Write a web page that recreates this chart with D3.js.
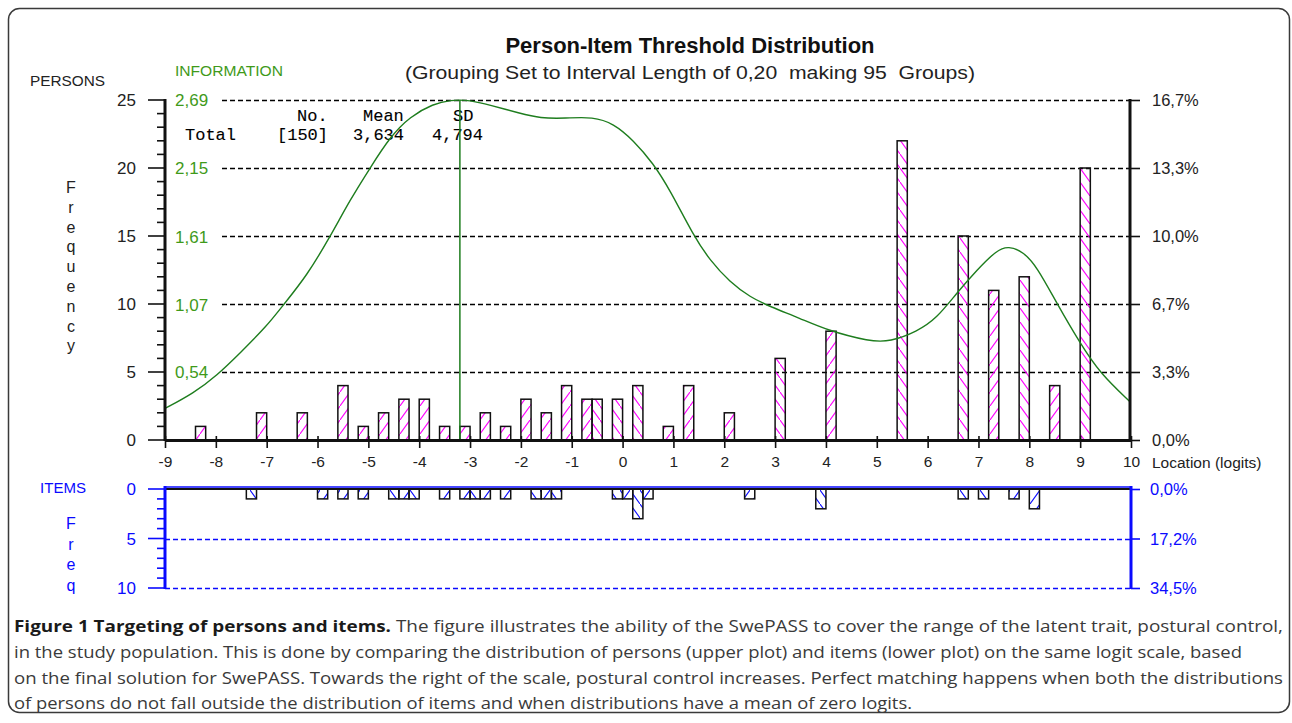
<!DOCTYPE html>
<html><head><meta charset="utf-8">
<script src="https://cdn.jsdelivr.net/npm/d3@7"></script>
<style>
html,body{margin:0;padding:0;background:#fff;}
svg{display:block;}
.sans{font-family:"Liberation Sans",Arial,sans-serif;}
.mono{font-family:"Liberation Mono","Courier New",monospace;}
</style></head>
<body>
<svg id="chart" width="1292" height="723"></svg>
<script>
// ---------------- DATA ----------------
const xTicks = [-9,-8,-7,-6,-5,-4,-3,-2,-1,0,1,2,3,4,5,6,7,8,9,10];
const xTickLabels = ["-9","-8","-7","-6","-5","-4","-3","-2","-1","0","1","2","3","4","5","6","7","8","9","10"];
const binWidth = 0.2;
const binOrigin = -8.3;

const personLoc  = [-8.3,-7.1,-6.3,-5.5,-5.1,-4.7,-4.3,-3.9,-3.5,-3.1,-2.7,-2.3,-1.9,-1.5,-1.1,-0.7,-0.5,-0.1,0.3,0.9,1.3,2.1,3.1,4.1,5.5,6.7,7.3,7.9,8.5,9.1];
const personFreq = [1,2,2,4,1,2,3,3,1,1,2,1,3,2,4,3,3,3,4,1,4,2,6,8,22,15,11,12,4,20];

const itemLoc  = [-7.3,-5.9,-5.5,-5.1,-4.5,-4.3,-4.1,-3.5,-3.1,-2.9,-2.7,-2.3,-1.7,-1.5,-1.3,-0.1,0.1,0.3,0.5,2.5,3.9,6.7,7.1,7.7,8.1];
const itemFreq = [1,1,1,1,1,1,1,1,1,1,1,1,1,1,1,1,1,3,1,1,2,1,1,1,2];

const infoLoc = [-9,-8.44,-7.98,-7.52,-7.0,-6.67,-6.21,-5.75,-5.36,-4.97,-4.57,-4.18,-3.72,-3.39,-3.0,-2.61,-2.02,-1.62,-1.13,-0.58,-0.18,0.21,0.60,0.93,1.39,1.72,2.11,2.51,2.90,3.49,4.01,4.87,5.26,5.79,6.18,6.57,6.97,7.36,7.59,7.88,8.15,8.54,9.0,9.39,9.98];
const infoVal = [0.25,0.37,0.51,0.69,0.90,1.07,1.30,1.61,1.90,2.15,2.40,2.56,2.66,2.69,2.69,2.65,2.585,2.545,2.545,2.558,2.505,2.373,2.19,1.98,1.62,1.42,1.25,1.13,1.055,0.963,0.87,0.778,0.778,0.857,0.963,1.161,1.345,1.503,1.535,1.49,1.371,1.082,0.765,0.528,0.303];
const infoMarkerLoc = -3.2;

const personTicks = [0,5,10,15,20,25];
const personTickLabels = ["0","5","10","15","20","25"];
const personPctLabels = ["0,0%","3,3%","6,7%","10,0%","13,3%","16,7%"];
const infoTicks = [0.54,1.07,1.61,2.15,2.69];
const infoTickLabels = ["0,54","1,07","1,61","2,15","2,69"];
const infoMax = 2.69;

const itemTicks = [0,5,10];
const itemTickLabels = ["0","5","10"];
const itemPctLabels = ["0,0%","17,2%","34,5%"];

const statsHeader = ["No.","Mean","SD"];
const statsRow = ["Total","[150]","3,634","4,794"];

const title = "Person-Item Threshold Distribution";
const subtitle = "(Grouping Set to Interval Length of 0,20  making 95  Groups)";
const captionBold = "Figure 1 Targeting of persons and items.";
const captionLines = [
  " The figure illustrates the ability of the SwePASS to cover the range of the latent trait, postural control,",
  "in the study population. This is done by comparing the distribution of persons (upper plot) and items (lower plot) on the same logit scale, based",
  "on the final solution for SwePASS. Towards the right of the scale, postural control increases. Perfect matching happens when both the distributions",
  "of persons do not fall outside the distribution of items and when distributions have a mean of zero logits."
];

// ---------------- CHART ----------------
const svg = d3.select("#chart");
const GREEN = "#1e7d1e", LABELGREEN = "#3f9a1a", BLUE = "#0a0aff", MAG = "#ff00ff";

const x = d3.scaleLinear().domain([-9,10]).range([165,1131]);
const yP = d3.scaleLinear().domain([0,25]).range([440,100]);
const yInfo = d3.scaleLinear().domain([0,infoMax]).range([440,100]);
const yI = d3.scaleLinear().domain([0,10]).range([489,588]);

// frame
svg.append("rect").attr("x",8.5).attr("y",8.5).attr("width",1281).attr("height",704)
  .attr("rx",11).attr("fill","#fff").attr("stroke","#3a3a3a").attr("stroke-width",1.5);

// patterns
const defs = svg.append("defs");
function hatch(id,color,fwd){
  const p = defs.append("pattern").attr("id",id).attr("patternUnits","userSpaceOnUse")
    .attr("width",10).attr("height",14);
  p.append("path").attr("d", fwd ? "M0,14 L10,0" : "M0,0 L10,14")
    .attr("stroke",color).attr("stroke-width",1.1).attr("fill","none");
}
hatch("pf",MAG,true); hatch("pb",MAG,false);
hatch("bf",BLUE,true); hatch("bb",BLUE,false);
const parity = loc => Math.round((loc - binOrigin)/binWidth) % 2 === 0;

// titles
svg.append("text").attr("class","sans").attr("x",690).attr("y",53).attr("text-anchor","middle")
  .attr("font-size",22).attr("font-weight","bold").attr("fill","#111").text(title);
svg.append("text").attr("class","sans").attr("x",690).attr("y",79).attr("text-anchor","middle")
  .attr("font-size",17.5).attr("fill","#222").attr("textLength",570).attr("lengthAdjust","spacingAndGlyphs")
  .style("white-space","pre").text(subtitle);
svg.append("text").attr("class","sans").attr("x",30).attr("y",86).attr("font-size",15)
  .attr("fill","#222").attr("textLength",75).attr("lengthAdjust","spacingAndGlyphs").text("PERSONS");
svg.append("text").attr("class","sans").attr("x",175).attr("y",76).attr("font-size",15)
  .attr("fill",LABELGREEN).attr("textLength",108).attr("lengthAdjust","spacingAndGlyphs").text("INFORMATION");

// Frequency vertical letters
"Frequency".split("").forEach((c,i)=>{
  svg.append("text").attr("class","sans").attr("x",71).attr("y",193+i*19.8).attr("text-anchor","middle")
    .attr("font-size",16).attr("fill","#222").text(c);
});

// grid lines (upper)
svg.append("g").selectAll("line").data(personTicks.filter(d=>d>0)).join("line")
  .attr("x1",222).attr("x2",1127).attr("y1",d=>Math.round(yP(d))+0.5).attr("y2",d=>Math.round(yP(d))+0.5)
  .attr("stroke","#000").attr("stroke-width",1.6).attr("stroke-dasharray","5,3");

// info labels
svg.append("g").selectAll("text").data(infoTicks).join("text").attr("class","sans")
  .attr("x",175).attr("y",d=>yInfo(d)+6).attr("font-size",17).attr("fill",LABELGREEN)
  .text((d,i)=>infoTickLabels[i]);

// stats text
const hdrX = [297,363,453], rowX = [185,277,353,432];
statsHeader.forEach((t,i)=>svg.append("text").attr("class","mono").attr("x",hdrX[i]).attr("y",121)
  .attr("font-size",17).attr("fill","#000").attr("stroke","#000").attr("stroke-width",0.12).text(t));
statsRow.forEach((t,i)=>svg.append("text").attr("class","mono").attr("x",rowX[i]).attr("y",140)
  .attr("font-size",17).attr("fill","#000").attr("stroke","#000").attr("stroke-width",0.12).text(t));

// person bars
const pdata = personLoc.map((l,i)=>({l,f:personFreq[i]}));
svg.append("g").selectAll("rect").data(pdata).join("rect")
  .attr("x",d=>x(d.l-binWidth/2)).attr("width",d=>x(d.l+binWidth/2)-x(d.l-binWidth/2))
  .attr("y",d=>yP(d.f)).attr("height",d=>yP(0)-yP(d.f))
  .attr("fill",d=>parity(d.l)?"url(#pf)":"url(#pb)").attr("stroke","#111").attr("stroke-width",1.5);

// info curve
const line = d3.line().x((d,i)=>x(infoLoc[i])).y(d=>yInfo(d)).curve(d3.curveBasis);
svg.append("path").datum(infoVal).attr("d",line).attr("fill","none").attr("stroke",GREEN).attr("stroke-width",1.4);
svg.append("line").attr("x1",x(infoMarkerLoc)).attr("x2",x(infoMarkerLoc)).attr("y1",yInfo(infoMax)).attr("y2",yP(0))
  .attr("stroke",GREEN).attr("stroke-width",1.5);

// left axis (persons)
const gl = svg.append("g").attr("transform","translate(165,0)");
gl.selectAll("line.t").data(d3.range(0,26)).join("line").attr("class","t")
  .attr("x1",d=>d%5===0?-17:-8).attr("x2",0).attr("y1",d=>yP(d)).attr("y2",d=>yP(d))
  .attr("stroke","#111").attr("stroke-width",1.6);
gl.append("line").attr("x1",0).attr("x2",0).attr("y1",yP(25)-1).attr("y2",yP(0)+1).attr("stroke","#111").attr("stroke-width",3);
gl.selectAll("text").data(personTicks).join("text").attr("class","sans")
  .attr("x",-29).attr("y",d=>yP(d)+6).attr("text-anchor","end").attr("font-size",17).attr("fill","#222")
  .text((d,i)=>personTickLabels[i]);

// right axis (persons %)
const yR = d3.axisRight(yP).tickValues(personTicks).tickSize(10).tickFormat((d,i)=>personPctLabels[i]);
const gr = svg.append("g").attr("class","sans").attr("transform","translate(1130,0)").call(yR);
gr.select(".domain").remove();
gr.append("line").attr("x1",0).attr("x2",0).attr("y1",yP(25)-1).attr("y2",yP(0)).attr("stroke","#111").attr("stroke-width",3);
gr.selectAll(".tick line").attr("x1",-3).attr("stroke","#111").attr("stroke-width",1.6);
gr.selectAll(".tick text").attr("x",22).attr("font-size",16.5).attr("fill","#222").attr("dy","0.35em");

// x axis (upper)
const xa = d3.axisBottom(x).tickValues(xTicks).tickSize(8).tickSizeOuter(0).tickFormat((d,i)=>xTickLabels[i]);
const gx = svg.append("g").attr("class","sans").attr("transform","translate(0,440)").call(xa);
gx.select(".domain").attr("stroke","#111").attr("stroke-width",3);
gx.selectAll(".tick line").attr("y1",-4).attr("stroke","#111").attr("stroke-width",1.6);
gx.selectAll(".tick text").attr("y",16).attr("font-size",15.5).attr("fill","#222");
svg.append("text").attr("class","sans").attr("x",1152).attr("y",468).attr("font-size",15.5).attr("fill","#222").text("Location (logits)");

// ---------------- items panel ----------------
svg.append("text").attr("class","sans").attr("x",40).attr("y",493).attr("font-size",14.5)
  .attr("fill",BLUE).attr("textLength",46).attr("lengthAdjust","spacingAndGlyphs").text("ITEMS");
"Freq".split("").forEach((c,i)=>{
  svg.append("text").attr("class","sans").attr("x",71).attr("y",529+i*20.5).attr("text-anchor","middle")
    .attr("font-size",16).attr("fill",BLUE).text(c);
});

// item grid
svg.append("g").selectAll("line").data(itemTicks.filter(d=>d>0)).join("line")
  .attr("x1",165).attr("x2",1131).attr("y1",d=>Math.round(yI(d))+0.5).attr("y2",d=>Math.round(yI(d))+0.5)
  .attr("stroke",BLUE).attr("stroke-width",1.5).attr("stroke-dasharray","5,3");

// item bars
const idata = itemLoc.map((l,i)=>({l,f:itemFreq[i]}));
svg.append("g").selectAll("rect").data(idata).join("rect")
  .attr("x",d=>x(d.l-binWidth/2)).attr("width",d=>x(d.l+binWidth/2)-x(d.l-binWidth/2))
  .attr("y",yI(0)).attr("height",d=>yI(d.f)-yI(0))
  .attr("fill",d=>parity(d.l)?"url(#bf)":"url(#bb)").attr("stroke","#111").attr("stroke-width",1.5);

// item top axis lines
svg.append("line").attr("x1",165).attr("x2",1131).attr("y1",yI(0)).attr("y2",yI(0)).attr("stroke","#111").attr("stroke-width",2.2);
svg.append("line").attr("x1",165).attr("x2",1131).attr("y1",yI(0)-2).attr("y2",yI(0)-2).attr("stroke",BLUE).attr("stroke-width",1.6);

// item left axis
const il = svg.append("g").attr("transform","translate(165,0)");
il.selectAll("line.t").data(d3.range(0,11)).join("line").attr("class","t")
  .attr("x1",d=>d%5===0?-17:-8).attr("x2",0).attr("y1",d=>yI(d)).attr("y2",d=>yI(d))
  .attr("stroke",BLUE).attr("stroke-width",1.6);
il.append("line").attr("x1",0).attr("x2",0).attr("y1",yI(0)-3).attr("y2",yI(10)+1).attr("stroke",BLUE).attr("stroke-width",3);
il.selectAll("text").data(itemTicks).join("text").attr("class","sans")
  .attr("x",-29).attr("y",d=>yI(d)+6).attr("text-anchor","end").attr("font-size",17).attr("fill",BLUE)
  .text((d,i)=>itemTickLabels[i]);

// item right axis
const iR = d3.axisRight(yI).tickValues(itemTicks).tickSize(9).tickFormat((d,i)=>itemPctLabels[i]);
const ir = svg.append("g").attr("class","sans").attr("transform","translate(1131,0)").call(iR);
ir.select(".domain").remove();
ir.append("line").attr("x1",0).attr("x2",0).attr("y1",yI(0)-3).attr("y2",yI(10)+1).attr("stroke",BLUE).attr("stroke-width",3);
ir.selectAll(".tick line").attr("stroke",BLUE).attr("stroke-width",1.6);
ir.selectAll(".tick text").attr("x",19).attr("font-size",16.5).attr("fill",BLUE).attr("dy","0.35em");

// ---------------- caption ----------------
const capX = 14, capY = [632,658,684,709], capW = [1269,1228,1269,898];
captionLines.forEach((t,i)=>{
  const tx = svg.append("text").attr("x",capX).attr("y",capY[i])
    .attr("font-family","'Open Sans', 'Noto Sans', sans-serif").attr("font-size",16.5).attr("fill","#3a3a3a")
    .attr("textLength",capW[i]).attr("lengthAdjust","spacingAndGlyphs").style("white-space","pre");
  if(i===0){ tx.append("tspan").attr("font-weight","bold").attr("fill","#1a1a1a").text(captionBold); }
  tx.append("tspan").text(t);
});
</script>
</body></html>
